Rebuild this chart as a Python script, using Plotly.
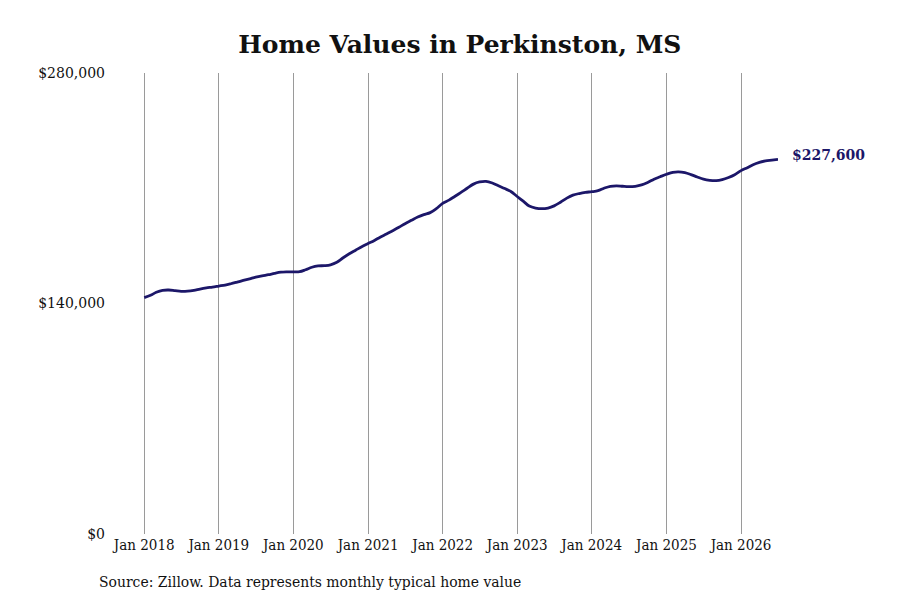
import plotly.graph_objects as go
import pandas as pd

# monthly typical home value, Jan 2018 - Jul 2026 (thousands of dollars)
months = pd.date_range("2018-01-01", "2026-07-01", freq="MS")
values_k = [
    143.6, 145.0, 146.8, 148.0, 148.2, 147.8, 147.4, 147.5, 148.0, 148.8, 149.5, 150.0,
    150.6, 151.2, 152.0, 153.0, 154.0, 155.0, 156.0, 156.8, 157.5, 158.3, 159.0, 159.2,
    159.2, 159.3, 160.5, 162.0, 162.8, 163.0, 163.5, 165.0, 167.8, 170.2, 172.4, 174.5,
    176.4, 178.3, 180.3, 182.2, 184.2, 186.3, 188.5, 190.5, 192.5, 194.0, 195.2, 197.6,
    200.8, 202.8, 205.0, 207.5, 210.0, 212.5, 213.8, 214.2, 213.2, 211.5, 209.8, 208.0,
    205.0, 202.0, 199.2, 198.0, 197.6, 198.0, 199.3, 201.5, 204.0, 205.8, 206.8, 207.5,
    207.9, 208.5, 210.0, 211.2, 211.5, 211.2, 211.0, 211.2, 212.0, 213.5, 215.5, 217.0,
    218.5, 219.7, 220.0, 219.5, 218.3, 216.8, 215.5, 214.8, 214.6, 215.2, 216.5, 218.2,
    220.7, 222.5, 224.3, 225.7, 226.6, 227.1, 227.6,
]
values = [v * 1000 for v in values_k]

ytick_vals = [0, 140000, 280000]
ytick_text = ["$0", "$140,000", "$280,000"]
end_label = "$227,600"

navy = "#1c1769"
serif = "DejaVu Serif"
serif_cond = "DejaVu Serif Condensed, DejaVu Serif"

fig = go.Figure()
fig.add_trace(go.Scatter(x=months, y=values, mode="lines",
                         line=dict(color=navy, width=2.8, shape="spline"),
                         showlegend=False, hoverinfo="skip"))

fig.add_annotation(x=months[-1], y=values[-1], text="<b>" + end_label + "</b>",
                   showarrow=False, xanchor="left", yanchor="middle", xshift=12, yshift=4,
                   font=dict(family=serif, size=14, color=navy))

fig.add_annotation(x=-0.073, y=-0.104, xref="paper", yref="paper",
                   text="Source: Zillow. Data represents monthly typical home value",
                   showarrow=False, xanchor="left", yanchor="middle",
                   font=dict(family=serif_cond, size=15.5, color="#111111"))

# page body adds an 8px offset, so margins are shifted to keep the plot in place
fig.update_layout(
    width=900, height=600,
    margin=dict(l=135, r=130, t=65, b=74, autoexpand=False),
    paper_bgcolor="white", plot_bgcolor="white",
    title=dict(text="<b>Home Values in Perkinston, MS</b>", x=0.502, xanchor="center",
               y=0.94, yanchor="middle",
               font=dict(family=serif, size=25, color="#111111")),
)
fig.update_xaxes(type="date", range=["2017-12-26", "2026-07-01"],
                 tick0="2018-01-01", dtick="M12", tickformat="%b %Y",
                 showgrid=True, gridcolor="#9a9a9a", gridwidth=1,
                 zeroline=False, showline=False, ticks="", automargin=False,
                 tickfont=dict(family=serif_cond, size=15, color="#111111"))
fig.update_yaxes(range=[0, 280000], tickvals=ytick_vals, ticktext=ytick_text,
                 showgrid=False, zeroline=False, showline=False, ticks="",
                 ticklabelstandoff=37, automargin=False,
                 tickfont=dict(family=serif, size=14, color="#111111"))

fig.write_html("out.html")
